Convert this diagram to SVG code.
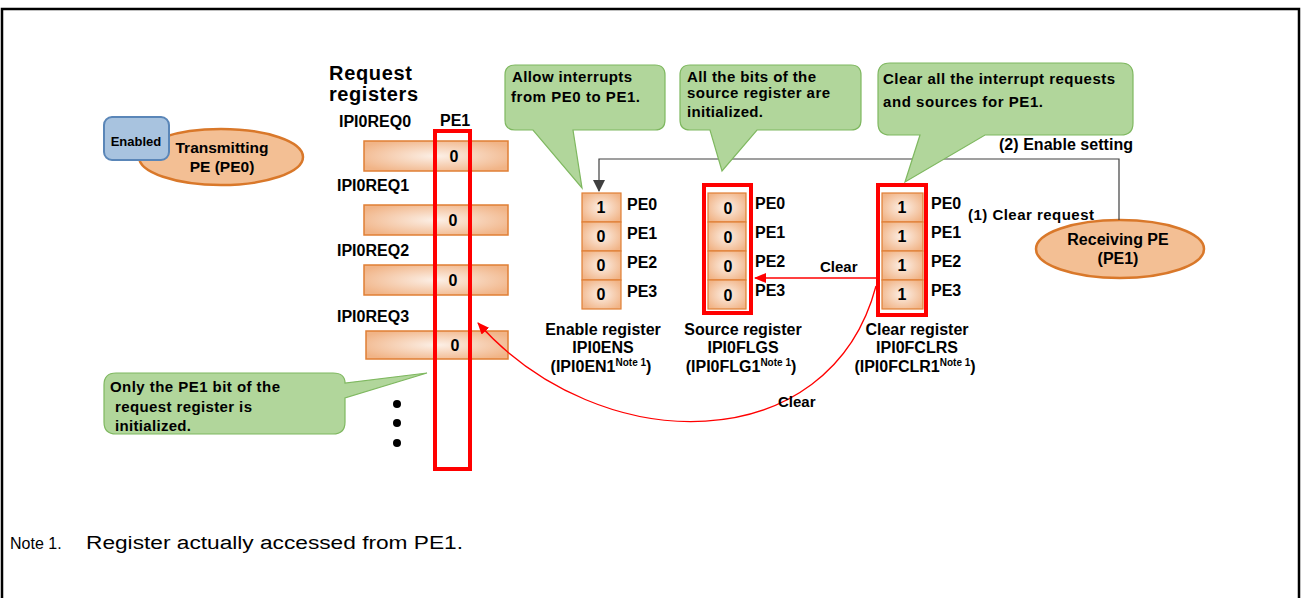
<svg xmlns="http://www.w3.org/2000/svg" width="1301" height="598" viewBox="0 0 1301 598">
<defs>
<style>
.t{font-family:"Liberation Sans",Arial,sans-serif;font-weight:bold;fill:#000;font-size:16px}
.c{text-anchor:middle}
.n{font-family:"Liberation Sans",Arial,sans-serif;fill:#000;font-size:18px}
.sup{font-size:10px}
.cell{fill:url(#og);stroke:#e07f35;stroke-width:1.2}
.bar{fill:url(#og);stroke:#e07f35;stroke-width:1.5}
.call{fill:#b1d69b;stroke:#7fb860;stroke-width:1.2}
.pe{fill:#f3bf94;stroke:#d9782a;stroke-width:2.5}
.redbox{fill:none;stroke:#ff0000;stroke-width:4}
.gray{fill:none;stroke:#404040;stroke-width:1.2}
.red{fill:none;stroke:#ff0000;stroke-width:1.3}
</style>
<radialGradient id="og" cx="50%" cy="50%" r="60%">
<stop offset="0" stop-color="#fcf0e7"/>
<stop offset="1" stop-color="#f1b487"/>
</radialGradient>
<marker id="ar" markerWidth="12" markerHeight="10" refX="11" refY="5" orient="auto" markerUnits="userSpaceOnUse">
<path d="M0,0 L12,5 L0,10 Z" fill="#ff0000"/>
</marker>
<marker id="ag" markerWidth="12" markerHeight="12" refX="11" refY="6" orient="auto" markerUnits="userSpaceOnUse">
<path d="M0,0 L12,6 L0,12 Z" fill="#404040"/>
</marker>
</defs>
<rect width="1301" height="598" fill="#fff"/>
<path d="M2,600 V9 H1299 V600" fill="none" stroke="#000" stroke-width="2.5"/>

<g id="transmitting-pe">
<ellipse class="pe" cx="221" cy="157" rx="82" ry="28"/>
<text class="t" x="222" y="153" text-anchor="middle" style="font-size:15.5px">Transmitting</text>
<text class="t" x="222" y="172" text-anchor="middle" style="font-size:15.5px">PE (PE0)</text>
</g>
<g id="enabled">
<rect x="104" y="117" width="65" height="43" rx="8" fill="#a8c3df" stroke="#5a86b8" stroke-width="2"/>
<text class="t" x="136" y="146" text-anchor="middle" style="font-size:13px">Enabled</text>
</g>

<g id="request-registers">
<text class="t" x="329" y="80" style="font-size:20px" textLength="83">Request</text>
<text class="t" x="329" y="101" style="font-size:20px" textLength="89">registers</text>
<text class="t" x="440" y="126">PE1</text>
<text class="t" x="339" y="127">IPI0REQ0</text>
<rect class="bar" x="364" y="141" width="144" height="30"/>
<text class="t c" x="454" y="162">0</text>
<text class="t" x="337" y="191">IPI0REQ1</text>
<rect class="bar" x="364" y="205" width="144" height="30"/>
<text class="t c" x="453" y="226">0</text>
<text class="t" x="337" y="256">IPI0REQ2</text>
<rect class="bar" x="364" y="265" width="144" height="30"/>
<text class="t c" x="453" y="286">0</text>
<text class="t" x="337" y="322">IPI0REQ3</text>
<rect class="bar" x="366" y="331" width="142" height="28"/>
<text class="t c" x="455" y="351">0</text>
<rect class="redbox" x="435" y="131" width="35" height="338"/>
<circle cx="397" cy="404" r="4" fill="#000"/>
<circle cx="397" cy="423" r="4" fill="#000"/>
<circle cx="397" cy="443" r="4" fill="#000"/>
</g>

<g id="enable-register">
<rect class="cell" x="582" y="193" width="39" height="29"/>
<rect class="cell" x="582" y="222" width="39" height="29"/>
<rect class="cell" x="582" y="251" width="39" height="29"/>
<rect class="cell" x="582" y="280" width="39" height="29"/>
<text class="t c" x="601" y="213">1</text>
<text class="t c" x="601" y="242">0</text>
<text class="t c" x="601" y="271">0</text>
<text class="t c" x="601" y="300">0</text>
<text class="t" x="627" y="210">PE0</text>
<text class="t" x="627" y="239">PE1</text>
<text class="t" x="627" y="268">PE2</text>
<text class="t" x="627" y="297">PE3</text>
<text class="t c" x="603" y="335">Enable register</text>
<text class="t c" x="603" y="353">IPI0ENS</text>
<text class="t c" x="601" y="372">(IPI0EN1<tspan class="sup" dy="-6">Note 1</tspan><tspan dy="6">)</tspan></text>
</g>

<g id="source-register">
<rect class="redbox" x="704" y="185" width="47" height="128"/>
<rect class="cell" x="708" y="193" width="38" height="29"/>
<rect class="cell" x="708" y="222" width="38" height="29"/>
<rect class="cell" x="708" y="251" width="38" height="29"/>
<rect class="cell" x="708" y="280" width="38" height="29"/>
<text class="t c" x="728" y="214">0</text>
<text class="t c" x="728" y="243">0</text>
<text class="t c" x="728" y="272">0</text>
<text class="t c" x="728" y="301">0</text>
<text class="t" x="755" y="209">PE0</text>
<text class="t" x="755" y="238">PE1</text>
<text class="t" x="755" y="267">PE2</text>
<text class="t" x="755" y="296">PE3</text>
<text class="t c" x="743" y="335">Source register</text>
<text class="t c" x="743" y="353">IPI0FLGS</text>
<text class="t c" x="741" y="372">(IPI0FLG1<tspan class="sup" dy="-6">Note 1</tspan><tspan dy="6">)</tspan></text>
</g>

<g id="clear-register">
<rect class="redbox" x="878" y="185" width="48" height="130"/>
<rect class="cell" x="882" y="193" width="41" height="29"/>
<rect class="cell" x="882" y="222" width="41" height="29"/>
<rect class="cell" x="882" y="251" width="41" height="29"/>
<rect class="cell" x="882" y="280" width="41" height="29"/>
<text class="t c" x="902" y="213">1</text>
<text class="t c" x="902" y="242">1</text>
<text class="t c" x="902" y="271">1</text>
<text class="t c" x="902" y="300">1</text>
<text class="t" x="931" y="209">PE0</text>
<text class="t" x="931" y="238">PE1</text>
<text class="t" x="931" y="267">PE2</text>
<text class="t" x="931" y="296">PE3</text>
<text class="t c" x="917" y="335">Clear register</text>
<text class="t c" x="917" y="353">IPI0FCLRS</text>
<text class="t c" x="915" y="372">(IPI0FCLR1<tspan class="sup" dy="-6">Note 1</tspan><tspan dy="6">)</tspan></text>
</g>

<g id="receiving-pe">
<ellipse class="pe" cx="1120" cy="249" rx="84" ry="29"/>
<text class="t c" x="1118" y="245">Receiving PE</text>
<text class="t c" x="1118" y="264">(PE1)</text>
</g>

<g id="connectors">
<path class="gray" d="M1119,220 V159 H599 V191" marker-end="url(#ag)"/>
<path class="red" d="M876,278 H755" marker-end="url(#ar)"/>
<path class="red" d="M876,286 C830,460 600,460 478,323" marker-end="url(#ar)"/>
<text class="t" x="820" y="272" style="font-size:15px">Clear</text>
<text class="t" x="778" y="407" style="font-size:15px">Clear</text>
<text class="t" x="999" y="150" textLength="134">(2) Enable setting</text>
<text class="t" x="968" y="220" style="font-size:15px" textLength="126">(1) Clear request</text>
</g>

<g id="callout-enable">
<path class="call" d="M515,65 H655 Q665,65 665,75 V120 Q665,130 655,130 H573 L582,188 L533,130 H515 Q505,130 505,120 V75 Q505,65 515,65 Z"/>
<text class="t" x="512" y="82" style="font-size:15px" textLength="120">Allow interrupts</text>
<text class="t" x="511" y="102" style="font-size:15px" textLength="129">from PE0 to PE1.</text>
</g>
<g id="callout-source">
<path class="call" d="M690,65 H851 Q861,65 861,75 V120 Q861,130 851,130 H757 L722,171 L710,130 H690 Q680,130 680,120 V75 Q680,65 690,65 Z"/>
<text class="t" x="687" y="82" style="font-size:15px" textLength="129">All the bits of the</text>
<text class="t" x="687" y="98" style="font-size:15px" textLength="143">source register are</text>
<text class="t" x="687" y="117" style="font-size:15px" textLength="76">initialized.</text>
</g>
<g id="callout-clear">
<path class="call" d="M890,63 H1121 Q1133,63 1133,75 V123 Q1133,135 1121,135 H985 L905,182 L920,135 H890 Q878,135 878,123 V75 Q878,63 890,63 Z"/>
<text class="t" x="883" y="84" style="font-size:15px" textLength="232">Clear all the interrupt requests</text>
<text class="t" x="883" y="107" style="font-size:15px" textLength="160">and sources for PE1.</text>
</g>
<g id="callout-request">
<path class="call" d="M116,373 H333 Q345,373 345,383 L427,373 L345,398 V422 Q345,434 333,434 H116 Q104,434 104,422 V385 Q104,373 116,373 Z"/>
<text class="t" x="110" y="392" style="font-size:15px" textLength="170">Only the PE1 bit of the</text>
<text class="t" x="115" y="412" style="font-size:15px" textLength="137">request register is</text>
<text class="t" x="115" y="431" style="font-size:15px" textLength="76">initialized.</text>
</g>

<g id="note">
<text class="n" x="10" y="549" style="font-size:16px">Note 1.</text>
<text class="n" x="86" y="549" textLength="377" lengthAdjust="spacingAndGlyphs">Register actually accessed from PE1.</text>
</g>
</svg>
